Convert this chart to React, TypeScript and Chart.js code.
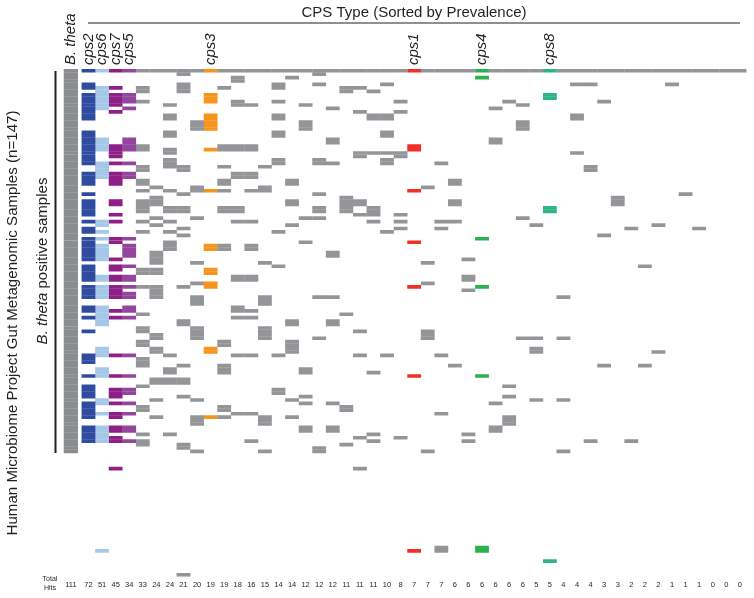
import React, { useEffect, useRef } from "react";
import { Chart, registerables } from "chart.js";

Chart.register(...registerables);

const FONT = '"Liberation Sans", Arial, sans-serif';
const INK = "#231f20";

// Total hits for the B. theta column and then every CPS column, in sorted order
const bThetaHits = 111;
const totalHits = [72, 51, 45, 34, 33, 24, 24, 21, 20, 19, 19, 18, 16, 15, 14, 14, 12, 12, 12, 11, 11, 11, 10, 8, 7, 7, 7, 6, 6, 6, 6, 6, 6, 5, 5, 4, 4, 4, 3, 3, 2, 2, 2, 1, 1, 1, 0, 0, 0];

// Named CPS types: column index -> name
const namedColumns: [number, string][] = [[0, "cps2"], [1, "cps6"], [2, "cps7"], [3, "cps5"], [9, "cps3"], [24, "cps1"], [29, "cps4"], [34, "cps8"]];
const columnColors: Record<number, string> = {
  0: "#2f4b9f", 1: "#a5c8e8", 2: "#8d1f87", 3: "#93479c",
  9: "#f7941e", 24: "#ee3124", 29: "#2bb14b", 34: "#2fb585",
};
const otherColor = "#939598";
const bThetaColor = "#8a8c8f";

const rowCount = 148; // reference genome row + 147 samples
const bThetaRows = 112;

// [row, ...columns with a hit]
const referenceRow = 0;
const sampleHits: number[][] = [
  [1, 7, 17], [2, 11, 15, 29], [3, 11],
  [4, 0, 7, 14, 17, 22, 36, 37, 43], [5, 0, 1, 2, 4, 7, 10, 14, 19, 20], [6, 1, 4, 7, 19, 21],
  [7, 0, 1, 2, 3, 9, 34], [8, 0, 1, 2, 3, 9, 34], [9, 0, 1, 2, 3, 4, 9, 11, 14, 23, 31, 38],
  [10, 0, 1, 2, 6, 11, 12, 16, 32], [11, 0, 1, 3, 18, 30], [12, 0, 2, 20, 23],
  [13, 0, 6, 9, 14, 21, 22, 36], [14, 0, 6, 9, 14, 21, 22, 36],
  [15, 8, 9, 16, 32], [16, 8, 9, 16, 32], [17, 8, 9, 16, 32],
  [18, 0, 6, 14, 22], [19, 0, 6, 14, 22], [20, 0, 1, 3, 18, 30], [21, 0, 1, 3, 18, 30],
  [22, 0, 1, 2, 3, 4, 10, 11, 12, 24], [23, 0, 1, 2, 3, 4, 6, 9, 10, 11, 12, 24],
  [24, 0, 2, 6, 20, 21, 22, 23, 36], [25, 0, 2, 20, 23], [26, 0, 6, 14, 17, 22],
  [27, 0, 1, 2, 3, 6, 14, 17, 18, 22, 26], [28, 1, 4, 6, 7, 10, 13, 37], [29, 1, 4, 7, 37],
  [30, 0, 1, 2, 3, 11, 12], [31, 0, 1, 2, 3, 11, 12], [32, 0, 2, 4, 10, 15, 27], [33, 0, 2, 4, 10, 15, 27],
  [34, 5, 8, 13, 25], [35, 4, 6, 8, 9, 10, 12, 13, 24], [36, 0, 7, 17, 44], [37, 5, 19, 39],
  [38, 0, 2, 4, 5, 15, 19, 20, 27, 39], [39, 0, 2, 4, 5, 15, 19, 20, 27, 39],
  [40, 0, 4, 6, 7, 10, 11, 17, 19, 21, 34], [41, 0, 4, 6, 7, 10, 11, 17, 19, 21, 34],
  [42, 0, 2, 20, 21, 23], [43, 5, 8, 16, 17, 32], [44, 0, 1, 2, 4, 6, 11, 12, 21, 23, 26, 27],
  [45, 1, 5, 15, 33, 42], [46, 0, 7, 23, 26, 40, 45], [47, 0, 1, 4, 6, 14, 22], [48, 7, 38],
  [49, 0, 1, 2, 3, 29], [50, 0, 2, 6, 16, 24], [51, 0, 1, 3, 6, 9, 10, 12], [52, 0, 1, 3, 6, 9, 10, 12],
  [53, 0, 1, 3, 5, 18], [54, 0, 1, 3, 5, 18], [55, 0, 1, 2, 5, 28], [56, 5, 8, 13, 25],
  [57, 0, 2, 3, 14, 41], [58, 0, 2, 4, 5, 9], [59, 0, 4, 5, 9],
  [60, 0, 1, 2, 3, 11, 12, 28], [61, 0, 1, 2, 3, 11, 12, 28], [62, 8, 9, 25],
  [63, 0, 1, 2, 3, 4, 5, 7, 9, 24, 29], [64, 0, 1, 2, 5, 28], [65, 0, 1, 2, 3, 5],
  [66, 0, 1, 2, 3, 5, 8, 13, 17, 18, 35], [67, 8, 13], [68, 8, 13], [69, 0, 1, 3, 11],
  [70, 0, 1, 2, 3, 11, 12], [71, 1, 4, 19], [72, 0, 1, 2, 3, 11, 12],
  [73, 1, 7, 15, 18], [74, 1, 7, 15, 18], [75, 4, 8, 13], [76, 0, 4, 8, 13, 20, 25],
  [77, 5, 8, 13, 25], [78, 5, 8, 13, 17, 25, 32, 33, 35], [79, 4, 10, 15], [80, 4, 10, 15],
  [81, 1, 5, 9, 15, 33], [82, 1, 5, 9, 15, 33, 42], [83, 0, 1, 2, 3, 6, 11, 12, 14, 20, 22, 26],
  [84, 0, 4], [85, 0, 4], [86, 4, 7, 10, 27, 38, 41], [87, 1, 6, 10, 16], [88, 1, 6, 10, 16, 21],
  [89, 0, 1, 2, 3, 24, 29], [90, 5, 6, 7], [91, 5, 6, 7], [92, 0, 4, 31], [93, 0, 2, 3, 14], [94, 0, 2, 3, 14],
  [95, 0, 2, 7, 16, 31], [96, 1, 5, 8, 15, 33, 35], [97, 0, 1, 2, 3, 16, 18, 30], [98, 0, 4, 10, 19], [99, 0, 4, 10, 19],
  [100, 0, 1, 2, 3, 11, 12, 26], [101, 0, 2, 5, 8, 9, 10, 13, 15, 31], [102, 8, 13, 31], [103, 8, 13, 31],
  [104, 0, 1, 2, 3, 16, 18, 30], [105, 0, 1, 2, 3, 16, 18, 30], [106, 0, 1, 4, 6, 21, 28],
  [107, 0, 1, 2, 20, 23], [108, 0, 1, 2, 3, 4, 12, 21, 28, 37, 40], [109, 4, 7, 19], [110, 7, 17],
  [111, 8, 13, 17, 25, 35], [116, 2, 20], [139, 26, 29], [140, 1, 24, 26, 29], [143, 34], [147, 7],
];

const bThetaPosition = -1.3;
const colPitch = 13.57;
const rowPitch = 3.43;
const colZeroPx = 88.5;
const xMin = -2;
const xMax = 48.5;
const topLabels: [number, string][] = [[bThetaPosition, "B. theta"], ...namedColumns];

const cell = (col: number, row: number) => ({ x: col, y: [row, row + 1] });

function buildDatasets() {
  const byColor = new Map<string, { x: number; y: number[] }[]>();
  const add = (col: number, row: number) => {
    const color = columnColors[col] ?? otherColor;
    if (!byColor.has(color)) byColor.set(color, []);
    byColor.get(color)!.push(cell(col, row));
  };
  totalHits.forEach((_, col) => add(col, referenceRow));
  sampleHits.forEach(([row, ...cols]) => cols.forEach((col) => add(col, row)));
  const bTheta = Array.from({ length: bThetaRows }, (_, row) => cell(bThetaPosition, row));
  return [
    { label: "B. theta", data: bTheta, backgroundColor: bThetaColor, barThickness: 14 },
    ...[...byColor.entries()].map(([color, data]) => ({
      label: color, data, backgroundColor: color, barThickness: colPitch,
    })),
  ];
}

const annotations = {
  id: "annotations",
  afterDraw(chart: any) {
    const ctx = chart.ctx as CanvasRenderingContext2D;
    ctx.save();
    ctx.fillStyle = INK;
    ctx.strokeStyle = INK;

    ctx.font = `15px ${FONT}`;
    ctx.textAlign = "center";
    ctx.textBaseline = "middle";
    ctx.fillText("CPS Type (Sorted by Prevalence)", 414, 13);
    ctx.lineWidth = 1.2;
    ctx.beginPath();
    ctx.moveTo(88, 23);
    ctx.lineTo(740, 23);
    ctx.stroke();

    ctx.lineWidth = 2;
    ctx.beginPath();
    ctx.moveTo(55.5, 71);
    ctx.lineTo(55.5, 453);
    ctx.stroke();

    ctx.font = `7px ${FONT}`;
    ctx.fillText("Total", 50, 579);
    ctx.fillText("Hits", 50, 588.5);

    topLabels.forEach(([value, text]) => {
      ctx.save();
      ctx.translate(chart.scales.x.getPixelForValue(value), 65);
      ctx.rotate(-Math.PI / 2);
      ctx.textAlign = "left";
      ctx.font = `italic 15px ${FONT}`;
      ctx.fillText(text, 0, 0);
      ctx.restore();
    });

    ctx.save();
    ctx.translate(13, 323);
    ctx.rotate(-Math.PI / 2);
    ctx.font = `15.1px ${FONT}`;
    ctx.fillText("Human Microbiome Project Gut Metagenomic Samples (n=147)", 0, 0);
    ctx.restore();

    ctx.save();
    ctx.translate(43, 261);
    ctx.rotate(-Math.PI / 2);
    const a = "B. theta";
    const b = " positive samples";
    ctx.font = `italic 15px ${FONT}`;
    const wa = ctx.measureText(a).width;
    ctx.font = `15px ${FONT}`;
    const wb = ctx.measureText(b).width;
    ctx.textAlign = "left";
    ctx.font = `italic 15px ${FONT}`;
    ctx.fillText(a, -(wa + wb) / 2, 0);
    ctx.font = `15px ${FONT}`;
    ctx.fillText(b, -(wa + wb) / 2 + wa, 0);
    ctx.restore();

    ctx.restore();
  },
};

export default function App() {
  const ref = useRef<HTMLCanvasElement>(null);
  useEffect(() => {
    const chart = new Chart(ref.current!, {
      type: "bar",
      data: { datasets: buildDatasets() as any },
      plugins: [annotations],
      options: {
        responsive: false,
        animation: false,
        events: [],
        layout: { padding: { left: colZeroPx + xMin * colPitch, right: 754 - (colZeroPx + xMax * colPitch), top: 69, bottom: 0 } },
        datasets: { bar: { grouped: false, borderWidth: 0, inflateAmount: 0.12 } as any },
        plugins: { legend: { display: false }, tooltip: { enabled: false }, title: { display: false } },
        scales: {
          x: {
            type: "linear",
            position: "bottom",
            offset: false,
            min: xMin,
            max: xMax,
            grid: { display: false, drawTicks: false },
            border: { display: false },
            afterBuildTicks(scale: any) {
              scale.ticks = [{ value: bThetaPosition }, ...totalHits.map((_, i) => ({ value: i }))];
            },
            afterFit(scale: any) { scale.height = 598 - rowCount * rowPitch - 69; },
            ticks: {
              autoSkip: false,
              maxRotation: 0,
              minRotation: 0,
              padding: 4,
              color: INK,
              font: { family: FONT, size: 7.5 },
              callback: (_v: any, i: number) => String(i === 0 ? bThetaHits : totalHits[i - 1]),
            },
          },
          y: { type: "linear", reverse: true, min: 0, max: rowCount, display: false },
        },
      },
    } as any);
    return () => chart.destroy();
  }, []);
  return (
    <div style={{ position: "absolute", left: 0, top: 0, width: 754, height: 598, background: "#fff" }}>
      <canvas ref={ref} width={754} height={598} style={{ display: "block" }} />
    </div>
  );
}
